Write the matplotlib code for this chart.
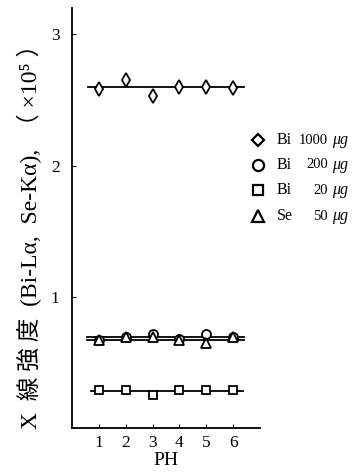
import matplotlib
matplotlib.use("Agg")
import matplotlib.pyplot as plt

plt.rcParams['font.family'] = ['Liberation Serif', 'Noto Sans CJK JP', 'DejaVu Sans']

ph = [1, 2, 3, 4, 5, 6]
bi1000 = [2.58, 2.65, 2.53, 2.60, 2.60, 2.59]
bi200 = [0.67, 0.69, 0.72, 0.68, 0.72, 0.69]
bi20 = [0.29, 0.29, 0.25, 0.29, 0.29, 0.29]
se50 = [0.67, 0.69, 0.69, 0.67, 0.65, 0.69]

# fitted horizontal lines: (level, x start, x end)
fit_levels = [2.60, 0.69, 0.67, 0.28]
fit_x0 = [0.6, 0.55, 0.55, 0.7]
fit_x1 = [6.4, 6.4, 6.4, 6.35]

legend_elem = ['Bi', 'Bi', 'Bi', 'Se']
legend_amt = ['1000', '200', '20', '50']
markers = ['d', 'o', 's', '^']
msizes = [7.5, 6.5, 6, 6.5]
leg_markers = ['D', 'o', 's', '^']
leg_msizes = [6.5, 8, 7.5, 8]
series = [bi1000, bi200, bi20, se50]

fig = plt.figure(figsize=(3.61, 4.75), dpi=100)
ax = fig.add_axes([72/361, 1-428/475, (260-72)/361, (428-8)/475])

for lv, a, b in zip(fit_levels, fit_x0, fit_x1):
    ax.plot([a, b], [lv, lv], color='black', lw=1.3, zorder=2)

for ys, m, ms in zip(series, markers, msizes):
    ax.plot(ph, ys, linestyle='none', marker=m, ms=ms, mfc='white',
            mec='black', mew=1.3, zorder=3)

ax.set_xlim(0, 7)
ax.set_ylim(0, 3.2)
ax.set_xticks(ph)
ax.set_yticks([1, 2, 3])
ax.tick_params(direction='in', length=3, width=0.8, labelsize=12.5)
ax.tick_params(axis='y', pad=9)
ax.tick_params(axis='x', pad=5)
ax.spines['top'].set_visible(False)
ax.spines['right'].set_visible(False)
ax.spines['left'].set_linewidth(1.3)
ax.spines['bottom'].set_linewidth(1.3)
ax.set_xlabel('PH', fontsize=14, labelpad=1)
ax.set_ylabel('X  線 強 度  (Bi-Lα,  Se-Kα),  （ ×10⁵ ）', fontsize=17,
              va='center')
ax.yaxis.set_label_coords(29/361, 1-231/475, transform=fig.transFigure)

# legend drawn manually
ys_leg = [140, 165, 190, 216]
for yy, m, ms, el, am in zip(ys_leg, leg_markers, leg_msizes, legend_elem, legend_amt):
    fy = 1 - yy/475
    fig.lines.append(plt.Line2D([258/361], [fy], transform=fig.transFigure,
                                marker=m, ms=ms, mfc='white',
                                mec='black', mew=1.6, linestyle='none'))
    fig.text(277/361, fy, el, fontsize=11.5, va='center', ha='left')
    fig.text(328/361, fy, am, fontsize=10.5, va='center', ha='right')
    fig.text(332/361, fy, 'μg', fontsize=11.5, va='center', ha='left', style='italic')

fig.savefig('out.png', dpi=100)
